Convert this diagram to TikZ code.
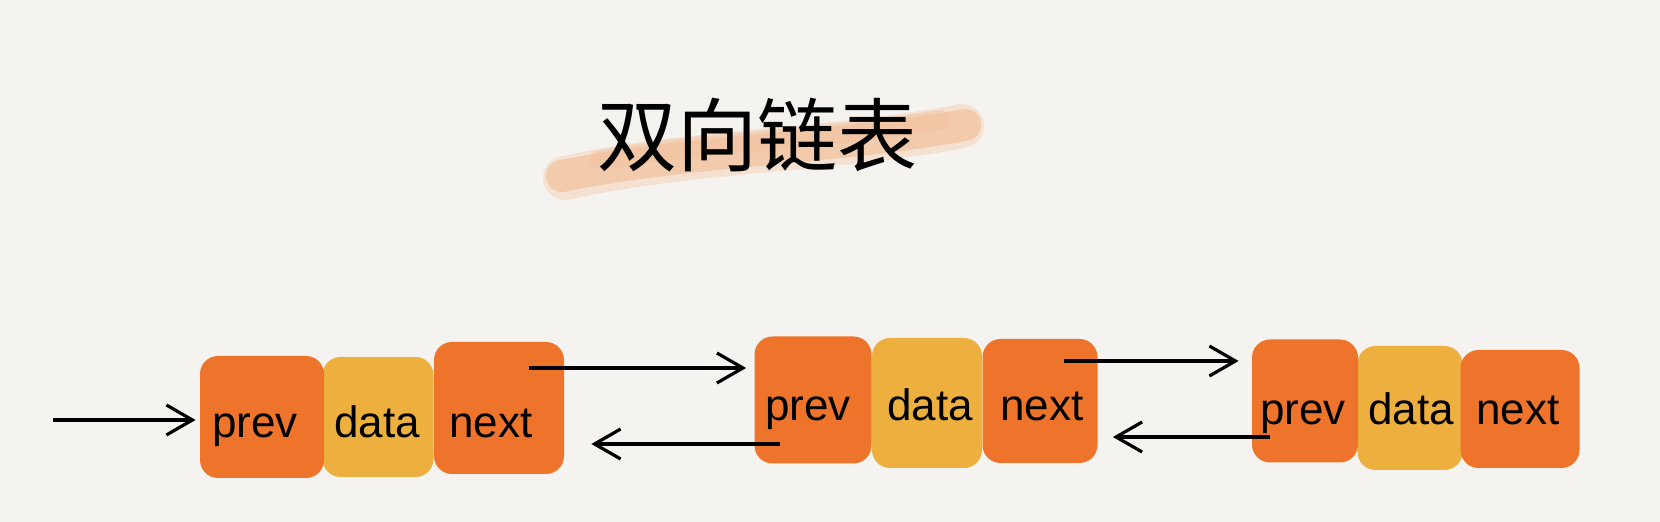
\documentclass[tikz,border=0pt]{standalone}
\usepackage{fontspec}
\setmainfont{Liberation Sans}
\newfontfamily\cjkfont{Noto Sans CJK SC}
\usetikzlibrary{arrows.meta,calc}
\definecolor{bgcol}{HTML}{F4F3F0}
\definecolor{boxorange}{HTML}{EE742B}
\definecolor{boxyellow}{HTML}{EDB03E}
\definecolor{brushcol}{HTML}{F2C3A0}
\definecolor{brushlight}{HTML}{F6D6BE}
\tikzset{
  ocell/.style={fill=boxorange, rounded corners=9pt, inner sep=0pt},
  ycell/.style={fill=boxyellow, rounded corners=9pt, inner sep=0pt},
  lbl/.style={anchor=base, inner sep=0pt, font=\fontsize{22pt}{26pt}\selectfont, text=black},
  arr/.style={line width=1.6pt, -{Straight Barb[length=13pt,width=15pt,line width=1.6pt]}},
  titlefont/.style={font=\cjkfont\fontsize{40pt}{48pt}\selectfont}
}
\begin{document}
\begin{tikzpicture}[x=0.5pt,y=-0.5pt]
\fill[bgcol] (0,0) rectangle (1660,522);
\useasboundingbox (0,0) rectangle (1660,522);

% brush stroke behind title
\draw[brushlight, line width=22pt, line cap=round, opacity=0.6]
  (565,178) .. controls (690,150) and (840,150) .. (962,126);
\draw[brushcol, line width=16pt, line cap=round, opacity=0.75]
  (562,176) .. controls (690,150) and (840,148) .. (965,125);
\draw[brushcol, line width=10pt, line cap=round, opacity=0.5]
  (600,160) .. controls (700,142) and (820,140) .. (940,120);

% title
\node[titlefont] (title) at (757,135) {双向链表};

% node 1
\node[ycell, minimum width=55.5pt, minimum height=60pt] (data1) at (378,417) {};
\node[ocell, minimum width=62pt, minimum height=61pt] (prev1) at (262,417) {};
\node[ocell, minimum width=65pt, minimum height=66pt] (next1) at (499,408) {};
% node 2
\node[ycell, minimum width=55pt, minimum height=65pt] (data2) at (927,403) {};
\node[ocell, minimum width=58.5pt, minimum height=63.5pt] (prev2) at (813,400) {};
\node[ocell, minimum width=57.5pt, minimum height=62pt] (next2) at (1040,401) {};
% node 3
\node[ycell, minimum width=52.5pt, minimum height=62pt] (data3) at (1410,408) {};
\node[ocell, minimum width=53pt, minimum height=61.5pt] (prev3) at (1305,401) {};
\node[ocell, minimum width=59.5pt, minimum height=59pt] (next3) at (1520,409) {};

% labels
\node[lbl] (tprev1) at (255,438) {prev};
\node[lbl] (tdata1) at (377,438) {data};
\node[lbl] (tnext1) at (491,438) {next};
\node[lbl] (tprev2) at (808,421) {prev};
\node[lbl] (tdata2) at (930,421) {data};
\node[lbl] (tnext2) at (1042,421) {next};
\node[lbl] (tprev3) at (1303,425) {prev};
\node[lbl] (tdata3) at (1411,425) {data};
\node[lbl] (tnext3) at (1518,425) {next};

% connectors
\coordinate (head) at (53,420);
\coordinate (f1) at ($(next1.center)+(30,-40)$);
\coordinate (b1) at ($(prev2.center)+(-33,44)$);
\coordinate (f2) at ($(next2.center)+(24,-40)$);
\coordinate (b2) at ($(prev3.center)+(-35,36)$);

\draw[arr, shorten >=2pt] (head) -- (head -| prev1.west);
\draw[arr, shorten >=4pt] (f1) -- (f1 -| prev2.west);
\draw[arr, shorten >=13.5pt] (b1) -- (b1 -| next1.east);
\draw[arr, shorten >=6.5pt] (f2) -- (f2 -| prev3.west);
\draw[arr, shorten >=7.5pt] (b2) -- (b2 -| next2.east);
\end{tikzpicture}
\end{document}
